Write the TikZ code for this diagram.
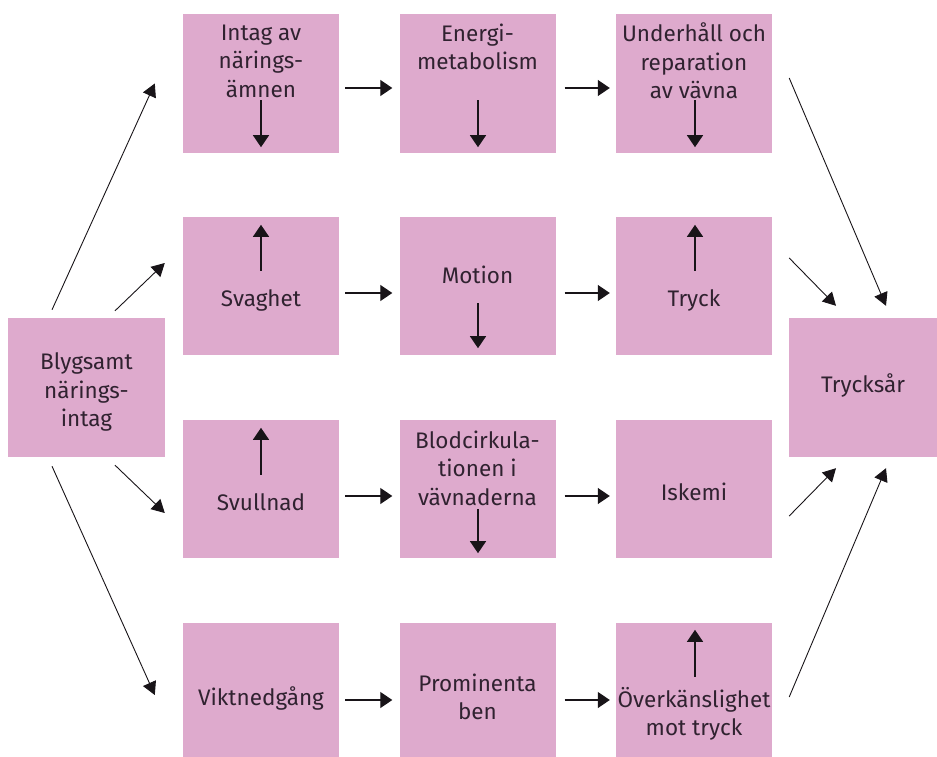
\documentclass[tikz,border=0pt]{standalone}
\usepackage{fontspec}
\setmainfont{Fira Sans}
\usetikzlibrary{arrows.meta}
\definecolor{boxfill}{RGB}{222,170,205}
\definecolor{ink}{RGB}{48,34,48}
\definecolor{arrowink}{RGB}{24,20,24}
\tikzset{
  box/.style={fill=boxfill, draw=none, inner sep=0pt, minimum width=156pt, minimum height=138pt},
  label text/.style={text=ink, align=center, inner sep=0pt, font=\fontsize{22.5pt}{28.5pt}\selectfont},
  arr/.style={draw=arrowink, line width=1.2pt, -{Triangle[length=12pt,width=16pt]}},
  thin arr/.style={draw=arrowink, line width=0.9pt, -{Triangle[length=13pt,width=14pt]}},
}
\begin{document}
\begin{tikzpicture}[x=1pt,y=-1pt]
  \useasboundingbox (0,0) rectangle (937,757);

  % boxes
  \node[box, minimum width=157pt, minimum height=139pt] (L) at (86.5,387.5) {};
  \node[box, minimum width=148pt, minimum height=139pt] (R) at (863,387.5) {};

  \node[box, minimum height=139pt] (c11) at (261,83.5) {};
  \node[box, minimum height=139pt] (c12) at (477.5,83.5) {};
  \node[box, minimum height=139pt] (c13) at (694,83.5) {};

  \node[box] (c21) at (261,286) {};
  \node[box] (c22) at (477.5,286) {};
  \node[box] (c23) at (694,286) {};

  \node[box] (c31) at (261,489) {};
  \node[box] (c32) at (477.5,489) {};
  \node[box] (c33) at (694,489) {};

  \node[box, minimum height=134pt] (c41) at (261,690) {};
  \node[box, minimum height=134pt] (c42) at (477.5,690) {};
  \node[box, minimum height=134pt] (c43) at (694,690) {};

  % texts
  \node[label text] (tL) at (86.5,392) {Blygsamt\\närings-\\intag};
  \node[label text] (tR) at (863,385) {Trycksår};

  \node[label text] (t11) at (261,61) {Intag av\\närings-\\ämnen};
  \node[label text] (t12) at (477.5,47) {Energi-\\metabolism};
  \node[label text] (t13) at (694,61) {Underhåll och\\reparation\\av vävna};

  \node[label text] (t21) at (261,300) {Svaghet};
  \node[label text] (t22) at (477.5,275) {Motion};
  \node[label text] (t23) at (694,300) {Tryck};

  \node[label text] (t31) at (261,502) {Svullnad};
  \node[label text] (t32) at (477.5,468) {Blodcirkula-\\tionen i\\vävnaderna};
  \node[label text] (t33) at (694,492) {Iskemi};

  \node[label text] (t41) at (261,698) {Viktnedgång};
  \node[label text] (t42) at (477.5,697) {Prominenta\\ben};
  \node[label text] (t43) at (694,714) {Överkänslighet\\mot tryck};

  % arrows from the left box
  \draw[thin arr] ([shift={(-34.5pt,8pt)}]L.north) -- ([xshift=-28pt]c11.west);
  \draw[thin arr] ([shift={(28.5pt,7pt)}]L.north) -- ([shift={(-18pt,23pt)}]c21.west);
  \draw[thin arr] ([shift={(28.5pt,-8pt)}]L.south) -- ([shift={(-18pt,-24pt)}]c31.west);
  \draw[thin arr] ([shift={(-34.5pt,-9pt)}]L.south) -- ([shift={(-28pt,-5pt)}]c41.west);

  % arrows into the right box
  \draw[thin arr] ([shift={(17pt,5.5pt)}]c13.east) -- ([shift={(23pt,12pt)}]R.north);
  \draw[thin arr] ([shift={(17pt,28pt)}]c23.east) -- ([shift={(-27pt,12pt)}]R.north);
  \draw[thin arr] ([shift={(17pt,-27pt)}]c33.east) -- ([shift={(-27pt,-11pt)}]R.south);
  \draw[thin arr] ([shift={(17pt,-7pt)}]c43.east) -- ([shift={(23pt,-11pt)}]R.south);

  % arrows between the columns
  \draw[arr] ([shift={(6pt,-4.5pt)}]c11.east) -- ([shift={(-7pt,-4.5pt)}]c12.west);
  \draw[arr] ([shift={(9pt,-4.5pt)}]c12.east) -- ([shift={(-6pt,-4.5pt)}]c13.west);
  \draw[arr] ([shift={(6pt,-7pt)}]c21.east) -- ([shift={(-7pt,-7pt)}]c22.west);
  \draw[arr] ([shift={(9pt,-7pt)}]c22.east) -- ([shift={(-6pt,-7pt)}]c23.west);
  \draw[arr] ([shift={(6pt,-7pt)}]c31.east) -- ([shift={(-7pt,-7pt)}]c32.west);
  \draw[arr] ([shift={(9pt,-7pt)}]c32.east) -- ([shift={(-6pt,-7pt)}]c33.west);
  \draw[arr] ([shift={(6pt,-10pt)}]c41.east) -- ([shift={(-7pt,-10pt)}]c42.west);
  \draw[arr] ([shift={(9pt,-10pt)}]c42.east) -- ([shift={(-6pt,-10pt)}]c43.west);

  % up and down arrows inside the boxes
  \draw[arr] ([yshift=53pt]c11.south) -- ([yshift=6pt]c11.south);
  \draw[arr] ([shift={(0.5pt,53pt)}]c12.south) -- ([shift={(0.5pt,6pt)}]c12.south);
  \draw[arr] ([shift={(1pt,53pt)}]c13.south) -- ([shift={(1pt,6pt)}]c13.south);
  \draw[arr] ([yshift=-54pt]c21.north) -- ([yshift=-8pt]c21.north);
  \draw[arr] ([shift={(0.5pt,52pt)}]c22.south) -- ([shift={(0.5pt,7pt)}]c22.south);
  \draw[arr] ([shift={(1pt,-54pt)}]c23.north) -- ([shift={(1pt,-8pt)}]c23.north);
  \draw[arr] ([yshift=-55pt]c31.north) -- ([yshift=-8pt]c31.north);
  \draw[arr] ([shift={(0.5pt,49pt)}]c32.south) -- ([shift={(0.5pt,5pt)}]c32.south);
  \draw[arr] ([shift={(1pt,-54pt)}]c43.north) -- ([shift={(1pt,-7pt)}]c43.north);
\end{tikzpicture}
\end{document}
